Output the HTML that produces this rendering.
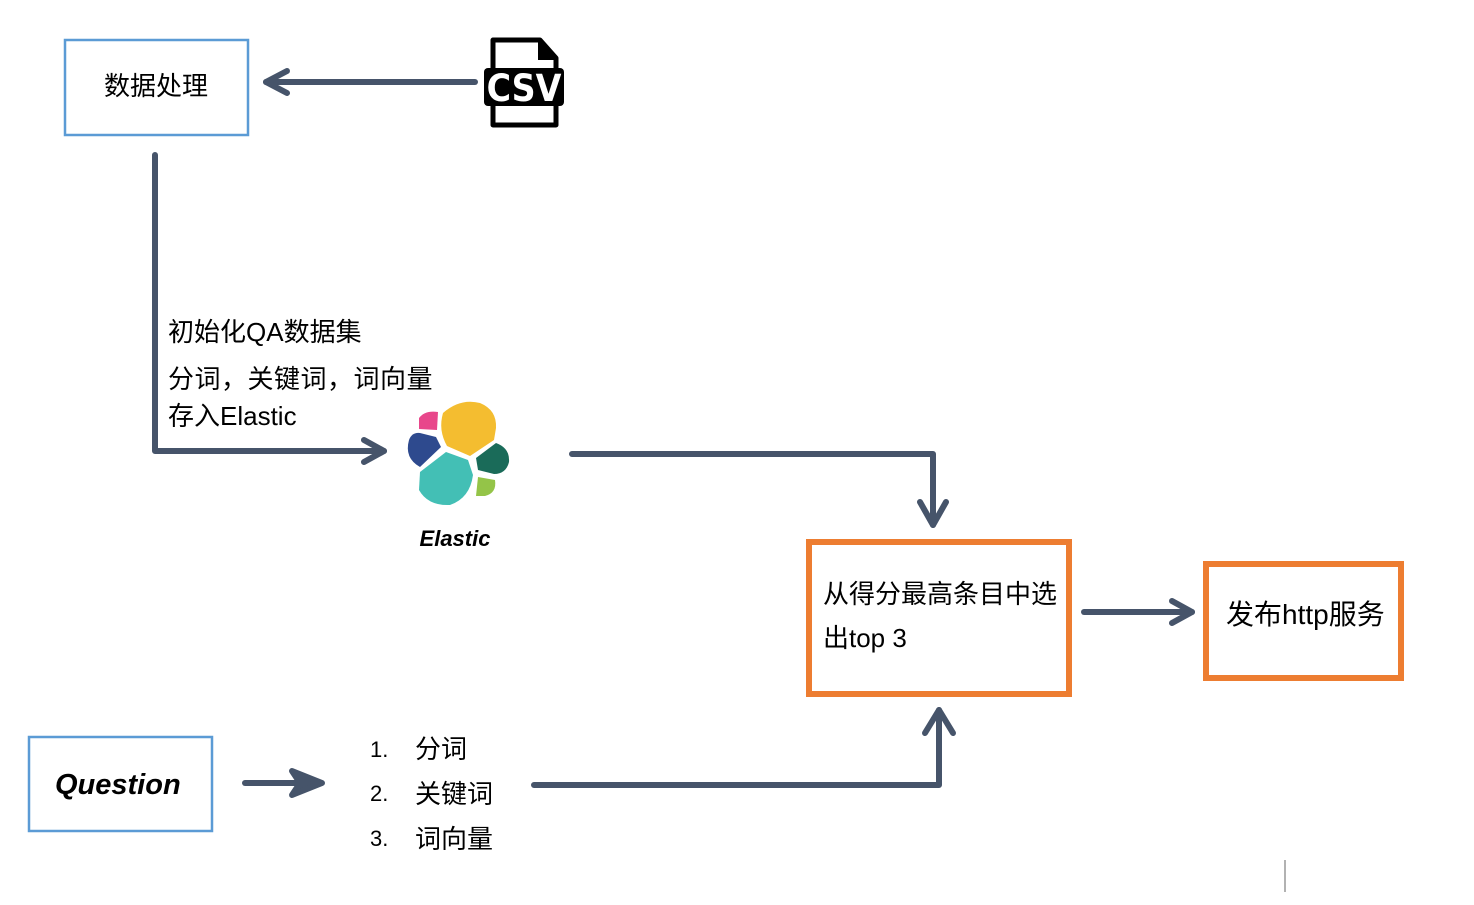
<!DOCTYPE html>
<html><head><meta charset="utf-8"><style>
html,body{margin:0;padding:0;background:#fff}
svg text{font-family:"Liberation Sans","Noto Sans CJK SC",sans-serif;fill:#000}
</style></head><body>
<svg width="1474" height="900" viewBox="0 0 1474 900" xmlns="http://www.w3.org/2000/svg">
<g fill="none" stroke="#46546a" stroke-width="6" stroke-linecap="round" stroke-linejoin="round">
<line x1="475" y1="82" x2="266" y2="82"/>
<polyline points="287,71 266,82 287,93"/>
<polyline points="155,155 155,451 384,451"/>
<polyline points="364,440 384,451 364,462"/>
<polyline points="572,454 933,454 933,525"/>
<polyline points="920,502 933,525 946,502"/>
<line x1="1084" y1="612" x2="1192" y2="612"/>
<polyline points="1172,601 1192,612 1172,623"/>
<line x1="245" y1="783" x2="318" y2="783"/>
<polygon points="292,771 322,783 292,795 300,783" fill="#46546a"/>
<polyline points="534,785 939,785 939,710"/>
<polyline points="925,733 939,710 953,733"/>
</g>
<rect x="65" y="40" width="183" height="95" fill="none" stroke="#5b9bd5" stroke-width="2.5"/>
<rect x="29" y="737" width="183" height="94" fill="none" stroke="#5b9bd5" stroke-width="2.5"/>
<rect x="809" y="542" width="260" height="152" fill="none" stroke="#ed7d31" stroke-width="6"/>
<rect x="1206" y="564" width="195" height="114" fill="none" stroke="#ed7d31" stroke-width="6"/>
<line x1="1285" y1="860" x2="1285" y2="892" stroke="#999" stroke-width="1.5"/>
<path d="M493,40 L540,40 L556,58 L556,125 L493,125 Z" fill="#fff" stroke="#000" stroke-width="5" stroke-linejoin="round"/>
<path d="M538,40 L538,60 L556,60 Z" fill="#000"/>
<rect x="484" y="68" width="80" height="38" rx="4" fill="#000"/>
<text x="524" y="101" text-anchor="middle" font-size="37" font-weight="bold" style="fill:#fff;font-family:'DejaVu Sans Condensed','Liberation Sans',sans-serif;font-stretch:condensed">CSV</text>
<path d="M443,413 Q460,398 480,403 Q497,410 496,428 L494,440 L470,456 L447,446 Q438,430 443,413Z" fill="#f4bd30"/>
<path d="M419,418 Q425,410 438,412 L437,430 L419,429Z" fill="#e8478b"/>
<path d="M409,440 Q412,432 420,433 L436,437 L441,447 L420,467 Q404,458 409,440Z" fill="#2e4a8e"/>
<path d="M446,452 L468,460 L473,475 Q470,498 450,505 Q428,506 419,490 L420,472Z" fill="#43bfb5"/>
<path d="M476,458 L496,443 Q510,448 509,462 Q506,474 494,474 L478,470Z" fill="#1a6b59"/>
<path d="M478,477 L495,480 Q497,493 485,496 L476,496Z" fill="#94c448"/>
<text x="455" y="546" text-anchor="middle" font-size="22" font-weight="bold" font-style="italic">Elastic</text>
<text x="104" y="95" font-size="26">数据处理</text>
<text x="168" y="341" font-size="26">初始化QA数据集</text>
<text x="168" y="388" font-size="26" letter-spacing="0.5">分词，关键词，词向量</text>
<text x="168" y="425" font-size="26">存入Elastic</text>
<text x="823" y="603" font-size="26">从得分最高条目中选</text>
<text x="823" y="647" font-size="26">出top 3</text>
<text x="1226" y="624" font-size="28">发布http服务</text>
<text x="55" y="794" font-size="29" font-weight="bold" font-style="italic">Question</text>
<text x="370" y="757" font-size="22">1.</text>
<text x="415" y="758" font-size="26">分词</text>
<text x="370" y="801" font-size="22">2.</text>
<text x="415" y="803" font-size="26">关键词</text>
<text x="370" y="846" font-size="22">3.</text>
<text x="415" y="848" font-size="26">词向量</text>
</svg>
</body></html>
